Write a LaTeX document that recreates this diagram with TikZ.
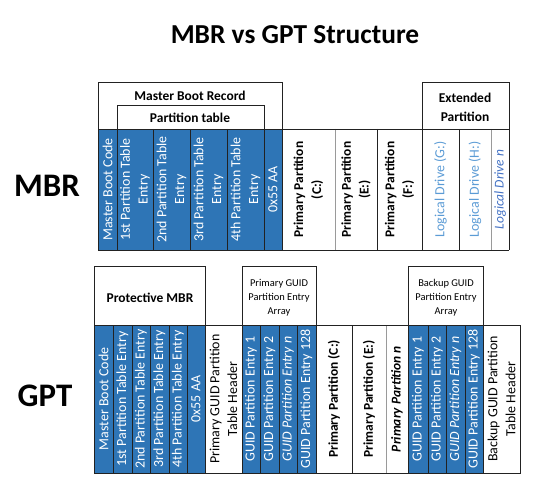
\documentclass[tikz,border=0pt]{standalone}
\usepackage{fontspec}
\setmainfont{Carlito}
\definecolor{partblue}{HTML}{2E75B6}
\definecolor{drivelight}{HTML}{5B9BD5}
\definecolor{drivedark}{HTML}{4472C4}
\definecolor{rulegray}{HTML}{9A9A9A}
\definecolor{ruledark}{HTML}{222222}
\begin{document}
\begin{tikzpicture}[x = 1bp, y = -1bp,
    vcell/.style = {rotate = 90, align = center, inner sep = 0pt,
        font = \fontsize{14}{18}\selectfont},
    oncell/.style = {vcell, text = white},
    headtext/.style = {align = center, inner sep = 0pt,
        font = \bfseries\fontsize{13.5}{19}\selectfont},
    smallhead/.style = {align = center, inner sep = 0pt,
        font = \fontsize{10.5}{14}\selectfont},
    sidetext/.style = {inner sep = 0pt, font = \bfseries\fontsize{33}{36}\selectfont}]
    \useasboundingbox (0,0) rectangle (551,495);
    \node[sidetext, font = \bfseries\fontsize{27.5}{30}\selectfont] (title) at (295,35) {MBR vs GPT Structure};
    \node[sidetext] (mbrlabel) at (47,186) {MBR};
    \node[sidetext] (gptlabel) at (45,396) {GPT};
    \begin{scope}[fill = partblue]
    \fill
    (98,129) rectangle (282,250);
    \fill
    (94,325) rectangle (205,473);
    \fill
    (242,325) rectangle (316,473);
    \fill
    (408,325) rectangle (483,473);
    \end{scope}
    \begin{scope}[line width = 0.8bp]
    \draw[rulegray]
    (335,129) -- (335,250)
    (491,129) -- (491,250)
    (386,325) -- (386,473);
    \draw[ruledark]
    (98,129) -- (98,82) -- (282,82) -- (282,250)
    (117,250) -- (117,105) -- (264,105) -- (264,250)
    (422,250) -- (422,82) -- (509,82) -- (509,250)
    (98,129) -- (509,129)
    (98,250) -- (509,250)
    (98,129) -- (98,250)
    (153,129) -- (153,250)
    (190,129) -- (190,250)
    (227,129) -- (227,250)
    (377,129) -- (377,250)
    (459,129) -- (459,250);
    \draw[ruledark]
    (94,473) -- (94,266) -- (205,266) -- (205,473)
    (242,473) -- (242,266) -- (316,266) -- (316,473)
    (408,473) -- (408,266) -- (483,266) -- (483,473)
    (94,325) -- (520,325) -- (520,473) -- (94,473)
    (113,325) -- (113,473)
    (132,325) -- (132,473)
    (150,325) -- (150,473)
    (169,325) -- (169,473)
    (187,325) -- (187,473)
    (260,325) -- (260,473)
    (279,325) -- (279,473)
    (297,325) -- (297,473)
    (352,325) -- (352,473)
    (428,325) -- (428,473)
    (446,325) -- (446,473)
    (465,325) -- (465,473);
    \end{scope}
    \node[headtext] (mbrhead) at (190,96) {Master Boot Record};
    \node[headtext] (parttable) at (190,118) {Partition table};
    \node[headtext] (extended) at (465,107) {Extended\\Partition};
    \node[oncell] (mbrcode) at (107.5,189.5) {Master Boot Code};
    \node[oncell] (mbrfirst) at (135,189.5) {1st Partition Table\\Entry};
    \node[oncell] (mbrsecond) at (171.5,189.5) {2nd Partition Table\\Entry};
    \node[oncell] (mbrthird) at (208.5,189.5) {3rd Partition Table\\Entry};
    \node[oncell] (mbrfourth) at (245.5,189.5) {4th Partition Table\\Entry};
    \node[oncell] (mbrsig) at (273,189.5) {0x55 AA};
    \node[vcell, font = \bfseries\fontsize{13.5}{18}\selectfont] (primc) at (308.5,189.5) {Primary Partition\\(C:)};
    \node[vcell, font = \bfseries\fontsize{13.5}{18}\selectfont] (prime) at (356,189.5) {Primary Partition\\(E:)};
    \node[vcell, font = \bfseries\fontsize{13.5}{18}\selectfont] (primf) at (399.5,189.5) {Primary Partition\\(F:)};
    \node[vcell, text = drivelight] (driveg) at (440.5,189.5) {Logical Drive (G:)};
    \node[vcell, text = drivelight] (driveh) at (475,189.5) {Logical Drive (H:)};
    \node[vcell, text = drivedark, font = \itshape\fontsize{13.5}{18}\selectfont] (driven) at (500,189.5) {Logical Drive \textit{n}};
    \node[headtext] (protective) at (150,298) {Protective MBR};
    \node[smallhead] (primarray) at (279,298) {Primary GUID\\Partition Entry\\Array};
    \node[smallhead] (backarray) at (446,298) {Backup GUID\\Partition Entry\\Array};
    \node[oncell] (gptcode) at (103.5,399) {Master Boot Code};
    \node[oncell] (gptfirst) at (122.5,399) {1st Partition Table Entry};
    \node[oncell] (gptsecond) at (141,399) {2nd Partition Table Entry};
    \node[oncell] (gptthird) at (159.5,399) {3rd Partition Table Entry};
    \node[oncell] (gptfourth) at (178,399) {4th Partition Table Entry};
    \node[oncell] (gptsig) at (196,399) {0x55 AA};
    \node[vcell] (primheader) at (223.5,399) {Primary GUID Partition\\Table Header};
    \node[oncell] (primone) at (251,399) {GUID Partition Entry 1};
    \node[oncell] (primtwo) at (269.5,399) {GUID Partition Entry 2};
    \node[oncell, font = \itshape\fontsize{14}{18}\selectfont] (primn) at (288,399) {GUID Partition Entry n};
    \node[oncell] (primlast) at (306.5,399) {GUID Partition Entry 128};
    \node[vcell, font = \bfseries\fontsize{13.5}{18}\selectfont] (gptc) at (334,399) {Primary Partition (C:)};
    \node[vcell, font = \bfseries\fontsize{13.5}{18}\selectfont] (gpte) at (369,399) {Primary Partition (E:)};
    \node[vcell, font = \bfseries\itshape\fontsize{13.5}{18}\selectfont] (gptn) at (397,399) {Primary Partition n};
    \node[oncell] (backone) at (418,399) {GUID Partition Entry 1};
    \node[oncell] (backtwo) at (437,399) {GUID Partition Entry 2};
    \node[oncell, font = \itshape\fontsize{14}{18}\selectfont] (backn) at (455.5,399) {GUID Partition Entry n};
    \node[oncell] (backlast) at (474,399) {GUID Partition Entry 128};
    \node[vcell] (backheader) at (501.5,399) {Backup GUID Partition\\Table Header};
\end{tikzpicture}
\end{document}
